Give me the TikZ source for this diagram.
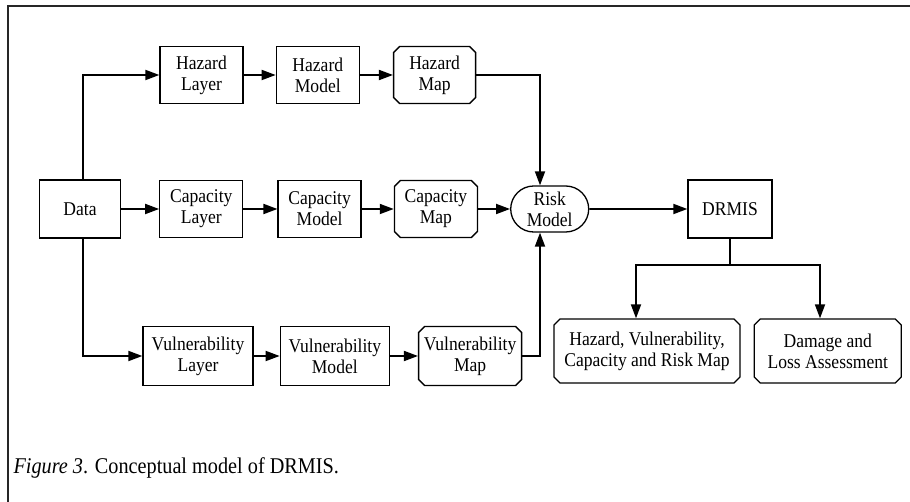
\documentclass[tikz,border=0pt]{standalone}
\usepackage{fontspec}
\setmainfont{Liberation Serif}[FakeStretch=0.9]
\usetikzlibrary{shapes.misc, arrows.meta}
\usetikzlibrary{positioning}
\tikzstyle{block} = [draw, rectangle, line width=1.3pt, text centered, align=center,
 minimum width=83pt, minimum height=57pt, inner sep=2pt, font=\fontsize{19.5}{21}\selectfont]
\tikzstyle{mapbox} = [block, chamfered rectangle, chamfered rectangle xsep=3pt,
 chamfered rectangle ysep=3pt, inner sep=0pt]
\tikzstyle{riskbox} = [block, rounded rectangle, minimum width=82pt, minimum height=46pt]
\tikzstyle{arrow} = [line width=1.8pt, -{Triangle[length=14pt,width=10pt]}]
\tikzstyle{line} = [line width=1.8pt, -]

\begin{document}
\begin{tikzpicture}[x=1pt, y=-1pt]
 	\useasboundingbox (0,0) rectangle (910,502);
 	\draw [line width=1.4pt, black!85] (8,502) -- (8,6) -- (910,6);
 	
 	\node [block, minimum width=81pt, minimum height=58pt] (d) at (80,209) {Data};
 	
 	\node [block] (hl) at (201.5,75) {Hazard\\Layer};
 	\node [block, right=32pt of hl] (hm) {Hazard\\Model};
 	\node [mapbox, minimum width=82pt, right=33pt of hm] (hp) {Hazard\\Map};
 	
 	\node [block, right=38pt of d] (cl) {Capacity\\Layer};
 	\node [block, right=34pt of cl] (cm) {Capacity\\Model};
 	\node [mapbox, minimum width=83pt, right=32pt of cm] (cp) {Capacity\\Map};
 	\node [riskbox, right=32pt of cp] (r) {Risk\\Model};
 	\node [block, minimum width=84pt, minimum height=58pt, right=98pt of r] (dr) {DRMIS};
 	
 	\node [block, minimum width=110pt, minimum height=59pt] (vl) at (198,356) {Vulnerability\\Layer};
 	\node [block, minimum width=109pt, minimum height=59pt, right=26pt of vl] (vm) {Vulnerability\\Model};
 	\node [mapbox, minimum width=103pt, minimum height=59pt, right=28pt of vm] (vp) {Vulnerability\\Map};
 	
 	\node [mapbox, minimum width=186pt, minimum height=64pt] (o1) at (647,351) {Hazard, Vulnerability,\\Capacity and Risk Map};
 	\node [mapbox, minimum width=147pt, minimum height=64pt, right=13pt of o1] (o2) {Damage and\\Loss Assessment};
 	
 	\node [coordinate] (rt) at (540,75) {};
 	\node [coordinate] (rb) at (540,356) {};
 	\node [coordinate] (br) at (dr.south |- 0,265) {};
 	
 	\draw [arrow] (d.north -| 83,0) |- (hl);
 	\draw [arrow] (d) -- (cl);
 	\draw [arrow] (d.south -| 83,0) |- (vl);
 	
 	\draw [arrow] (hl) -- (hm);
 	\draw [arrow] (hm) -- (hp);
 	\draw [arrow] (cl) -- (cm);
 	\draw [arrow] (cm) -- (cp);
 	\draw [arrow] (vl) -- (vm);
 	\draw [arrow] (vm) -- (vp);
 	
 	\draw [arrow] (hp.east |- rt) -- (rt) -- (rt |- r.north);
 	\draw [arrow] (cp) -- (r);
 	\draw [arrow] (vp.east |- rb) -- (rb) -- (rb |- r.south);
 	\draw [arrow] (r) -- (dr);
 	
 	\draw [line] (dr.south) -- (br);
 	\draw [arrow] (br) -| (636,0 |- o1.north);
 	\draw [arrow] (br) -| (820,0 |- o2.north);
 	
 	\node [anchor=base west, font=\fontsize{22.5}{26}\selectfont] (cap) at (10,473) {\textit{Figure 3}. Conceptual model of DRMIS.};
 	
\end{tikzpicture}
\end{document}
